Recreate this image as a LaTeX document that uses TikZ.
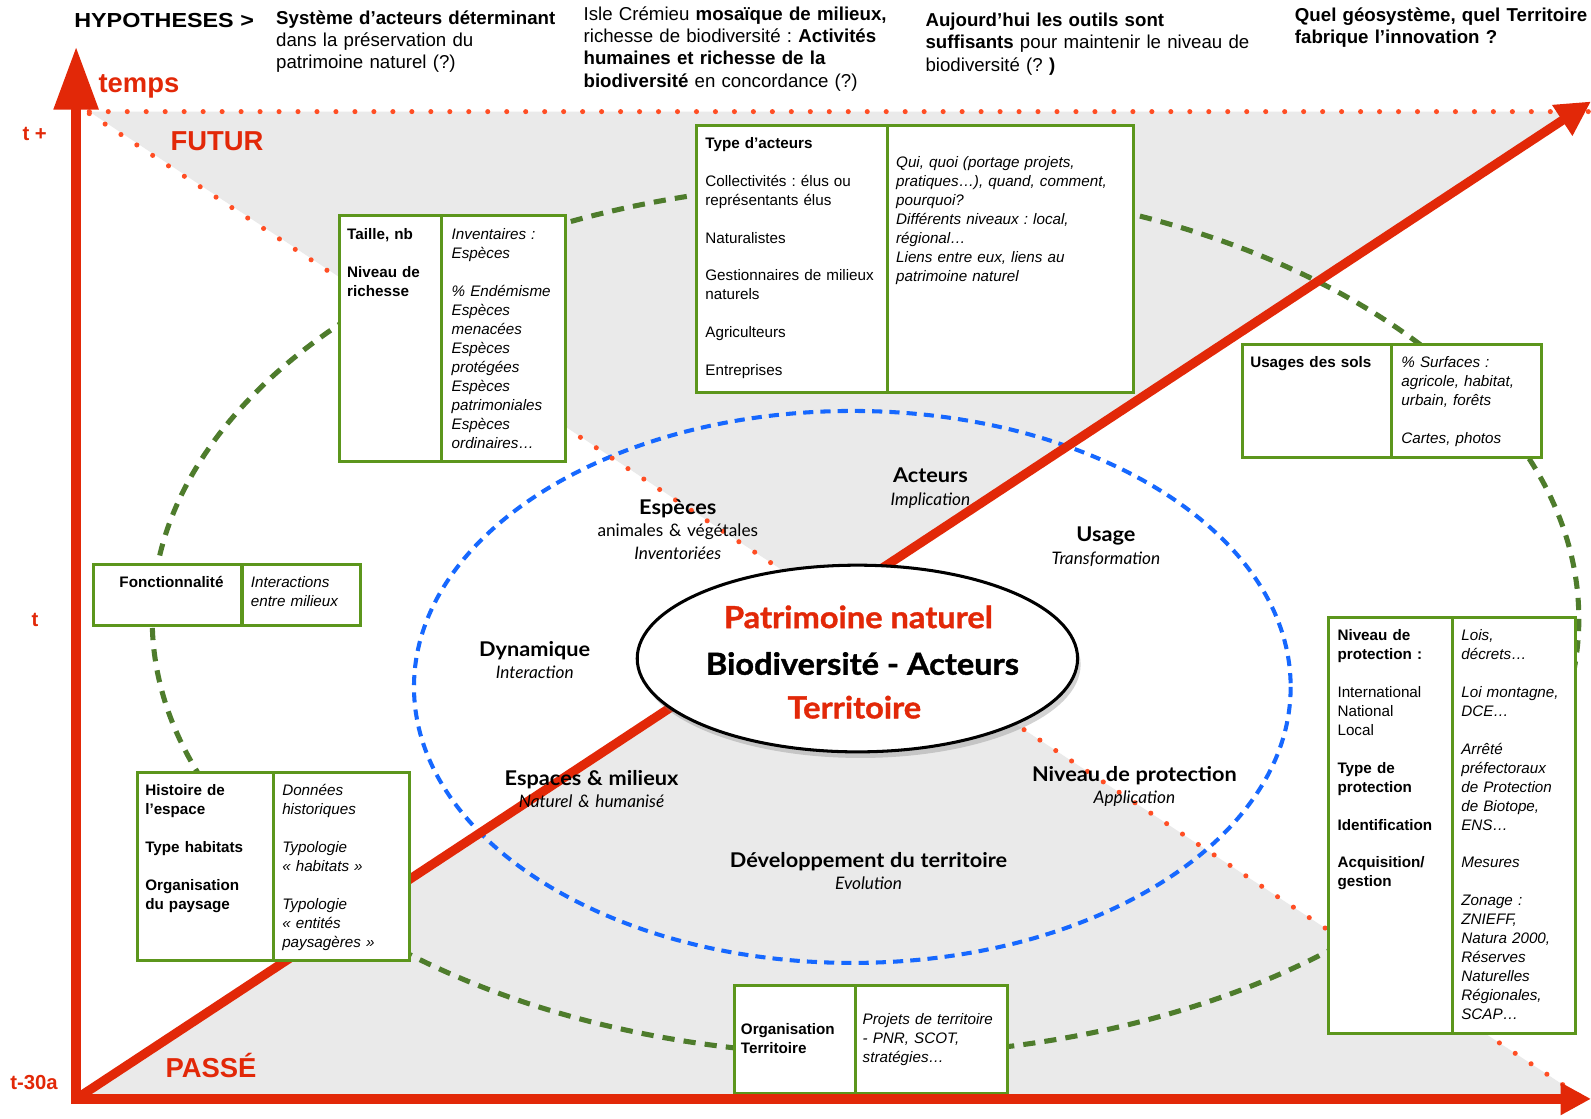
\documentclass[tikz,border=0pt]{standalone}
\usepackage{fontspec}
\setmainfont{Liberation Sans}
\newfontfamily\gill{Lato}
\newfontfamily\gillb{Lato}[FakeStretch=1.07]
\newfontfamily\gillc{Lato}[FakeStretch=1.07, FakeBold=1.2]
\usetikzlibrary{arrows.meta,shadows,shapes.geometric}
\definecolor{axisred}{RGB}{226,40,8}
\definecolor{dotred}{RGB}{255,78,36}
\definecolor{boxgreen}{RGB}{92,150,28}
\definecolor{dashgreen}{RGB}{78,124,44}
\definecolor{ellblue}{RGB}{22,104,255}
\definecolor{zonegray}{RGB}{234,234,234}
\newcommand\gp{\\[18.7pt]}
\tikzset{
  cell/.style={draw=boxgreen, line width=3pt, fill=white, anchor=north west, inner sep=0pt},
  boxtxt/.style={anchor=base west, inner sep=0pt, align=left, text width=260pt, font=\fontsize{15}{18.7}\selectfont},
  hyp/.style={anchor=base west, inner sep=0pt, align=left, text width=360pt, font=\fontsize{18.4}{22}\selectfont},
  redlbl/.style={text=axisred, font=\fontsize{27}{30}\selectfont\bfseries, inner sep=0pt, anchor=base west},
  tlbl/.style={text=axisred, font=\fontsize{20}{24}\selectfont\bfseries, inner sep=0pt, anchor=base west},
  elbl/.style={anchor=base, inner sep=0pt, align=center, text width=320pt, font=\gill\fontsize{17}{22}\selectfont},
  corelbl/.style={anchor=base, inner sep=0pt, font=\gillc\bfseries\fontsize{30}{30}\selectfont},
  dotline/.style={draw=dotred, line width=5pt, line cap=round, dash pattern=on 0pt off 18.7pt},
}
\newcommand\eb[1]{{\gillb\fontsize{20}{22}\selectfont\bfseries #1}}
\begin{document}
\frenchspacing
\begin{tikzpicture}[x=1pt,y=-1pt]
\useasboundingbox (0,0) rectangle (1568,1102);
\fill[white] (0,0) rectangle (1568,1102);
% key coordinates
\coordinate (O) at (75,1083);
\coordinate (Vtip) at (75,46);
\coordinate (Htip) at (1568,1083);
\coordinate (Dtip) at (1568,100);
\coordinate (TL) at (88,110);
\coordinate (TR) at (1568,110);
\coordinate (DL) at (88,112);
\coordinate (DR) at (1566,1086);
\coordinate (P) at (intersection of O--Dtip and DL--DR);
\coordinate (PT) at (intersection of O--Dtip and TL--TR);
\coordinate (PB) at (intersection of O--Htip and DL--DR);
% gray zones
\fill[zonegray] (TL) -- (PT) -- (P) -- cycle;
\fill[zonegray] (O) -- (PB) -- (P) -- cycle;
% ellipses
\draw[dashgreen, line width=5pt, dash pattern=on 12pt off 9pt] (853,610) ellipse [x radius=703, y radius=430];
\draw[ellblue, line width=4pt, dash pattern=on 10pt off 7pt] (840,677) ellipse [x radius=432, y radius=272];
% dotted lines
\draw[dotline] (TL) -- (TR);
\draw[dotline] (DL) -- (DR);
% red diagonal
\draw[axisred, line width=9pt, -{Triangle[length=34pt,width=34pt]}] (O) -- (Dtip);

% boxes
\node[cell, minimum width=188pt, minimum height=263pt] (acL) at (685,122) {};
\node[cell, minimum width=243pt, minimum height=263pt] (acR) at (873,122) {};
\node[cell, minimum width=101pt, minimum height=242pt] (taL) at (333,211) {};
\node[cell, minimum width=122pt, minimum height=242pt] (taR) at (434,211) {};
\node[cell, minimum width=147pt, minimum height=111pt] (usL) at (1223,338) {};
\node[cell, minimum width=148pt, minimum height=111pt] (usR) at (1370,338) {};
\node[cell, minimum width=146pt, minimum height=60pt] (foL) at (91,555) {};
\node[cell, minimum width=117pt, minimum height=60pt] (foR) at (237,555) {};
\node[cell, minimum width=134pt, minimum height=185pt] (hiL) at (134,760) {};
\node[cell, minimum width=134pt, minimum height=185pt] (hiR) at (268,760) {};
\node[cell, minimum width=122pt, minimum height=410pt] (niL) at (1308,607) {};
\node[cell, minimum width=121pt, minimum height=410pt] (niR) at (1430,607) {};
\node[cell, minimum width=120pt, minimum height=106pt] (orL) at (722,970) {};
\node[cell, minimum width=149pt, minimum height=106pt] (orR) at (842,970) {};

% box texts
\node[boxtxt] (acLt) at (695,146) {\textbf{Type d’acteurs}\gp Collectivités : élus ou\\représentants élus\gp Naturalistes\gp Gestionnaires de milieux\\naturels\gp Agriculteurs\gp Entreprises};
\node[boxtxt, font=\fontsize{15}{18.7}\selectfont\itshape] (acRt) at (883,165) {Qui, quoi (portage projets,\\pratiques…), quand, comment,\\pourquoi?\\Différents niveaux : local,\\régional…\\Liens entre eux, liens au\\patrimoine naturel};
\node[boxtxt] (taLt) at (342,236) {\textbf{Taille, nb}\gp\textbf{Niveau de}\\\textbf{richesse}};
\node[boxtxt, font=\fontsize{15}{18.7}\selectfont\itshape] (taRt) at (445,236) {Inventaires :\\Espèces\gp\% Endémisme\\Espèces\\menacées\\Espèces\\protégées\\Espèces\\patrimoniales\\Espèces\\ordinaires…};
\node[boxtxt] (usLt) at (1232,362) {\textbf{Usages des sols}};
\node[boxtxt, font=\fontsize{15}{18.7}\selectfont\itshape] (usRt) at (1381,362) {\% Surfaces :\\agricole, habitat,\\urbain, forêts\gp Cartes, photos};
\node[anchor=base, inner sep=0pt, font=\fontsize{15}{18.7}\selectfont\bfseries] (foLt) at (169,579) {Fonctionnalité};
\node[boxtxt, font=\fontsize{15}{18.7}\selectfont\itshape] (foRt) at (247,579) {Interactions\\entre milieux};
\node[boxtxt] (hiLt) at (143,784) {\textbf{Histoire de}\\\textbf{l’espace}\gp\textbf{Type habitats}\gp\textbf{Organisation}\\\textbf{du paysage}};
\node[boxtxt, font=\fontsize{15}{18.7}\selectfont\itshape] (hiRt) at (278,784) {Données\\historiques\gp Typologie\\« habitats »\gp Typologie\\« entités\\paysagères »};
\node[boxtxt] (niLt) at (1318,631) {\textbf{Niveau de}\\\textbf{protection :}\gp International\\National\\Local\gp\textbf{Type de}\\\textbf{protection}\gp\textbf{Identification}\gp\textbf{Acquisition/}\\\textbf{gestion}};
\node[boxtxt, font=\fontsize{15}{18.7}\selectfont\itshape] (niRt) at (1440,631) {Lois,\\décrets…\gp Loi montagne,\\DCE…\gp Arrêté\\préfectoraux\\de Protection\\de Biotope,\\ENS…\gp Mesures\gp Zonage :\\ZNIEFF,\\Natura 2000,\\Réserves\\Naturelles\\Régionales,\\SCAP…};
\node[boxtxt] (orLt) at (730,1020) {\textbf{Organisation}\\\textbf{Territoire}};
\node[boxtxt, font=\fontsize{15}{18.7}\selectfont\itshape] (orRt) at (850,1010) {Projets de territoire\\- PNR, SCOT,\\stratégies…};

% central ellipse
\node[ellipse, draw=black, line width=3pt, fill=white, minimum width=434pt, minimum height=184pt,
      drop shadow={opacity=0.35, shadow xshift=3pt, shadow yshift=-6pt}] (core) at (845,649) {};
\node[corelbl, text=axisred] (c1) at (846,619) {Patrimoine naturel};
\node[corelbl, text=black] (c2) at (850,665) {Biodiversité - Acteurs};
\node[corelbl, text=axisred] (c3) at (842,708) {Territoire};

% axes
\draw[axisred, line width=10pt, line cap=rect, -{Triangle[length=62pt,width=42pt]}] (O) -- (Vtip);
\draw[axisred, line width=10pt, line cap=rect, -{Triangle[length=30pt,width=30pt]}] (O) -- (Htip);

% ellipse labels
\node[elbl] (lac) at (917,476) {\eb{Acteurs}\\\textit{Implication}};
\node[elbl] (les) at (668,507) {\eb{Espèces}\\animales \& végétales\\\textit{Inventoriées}};
\node[elbl] (lus) at (1090,534) {\eb{Usage}\\\textit{Transformation}};
\node[elbl] (ldy) at (527,647) {\eb{Dynamique}\\\textit{Interaction}};
\node[elbl] (lem) at (583,774) {\eb{Espaces \& milieux}\\\textit{Naturel \& humanisé}};
\node[elbl] (lnp) at (1118,770) {\eb{Niveau de protection}\\\textit{Application}};
\node[elbl] (ldt) at (856,855) {\eb{Développement du territoire}\\\textit{Evolution}};

% red labels
\node[redlbl] (temps) at (97,91) {temps};
\node[redlbl] (futur) at (168,148) {FUTUR};
\node[redlbl] (passe) at (163,1062) {PASSÉ};
\node[tlbl] (tplus) at (22,138) {t +};
\node[tlbl] (tnow) at (31,617) {t};
\node[tlbl] (tmin) at (10,1074) {t-30a};

% header
\node[anchor=base west, inner sep=0pt, font=\fontsize{20}{24}\selectfont\bfseries] (h0) at (73,27) {\scalebox{1.15}[1]{HYPOTHESES >}};
\node[hyp] (h1) at (272,24) {\textbf{Système d’acteurs déterminant}\\dans la préservation du\\patrimoine naturel (?)};
\node[hyp] (h2) at (575,20) {Isle Crémieu \textbf{mosaïque de milieux,}\\richesse de biodiversité : \textbf{Activités}\\\textbf{humaines et richesse de la}\\\textbf{biodiversité} en concordance (?)};
\node[hyp] (h3) at (912,26) {\textbf{Aujourd’hui les outils sont}\\\textbf{suffisants} pour maintenir le niveau de\\biodiversité (? \textbf{)}};
\node[hyp] (h4) at (1276,21) {\textbf{Quel géosystème, quel Territoire}\\\textbf{fabrique l’innovation ?}};
\end{tikzpicture}
\end{document}
